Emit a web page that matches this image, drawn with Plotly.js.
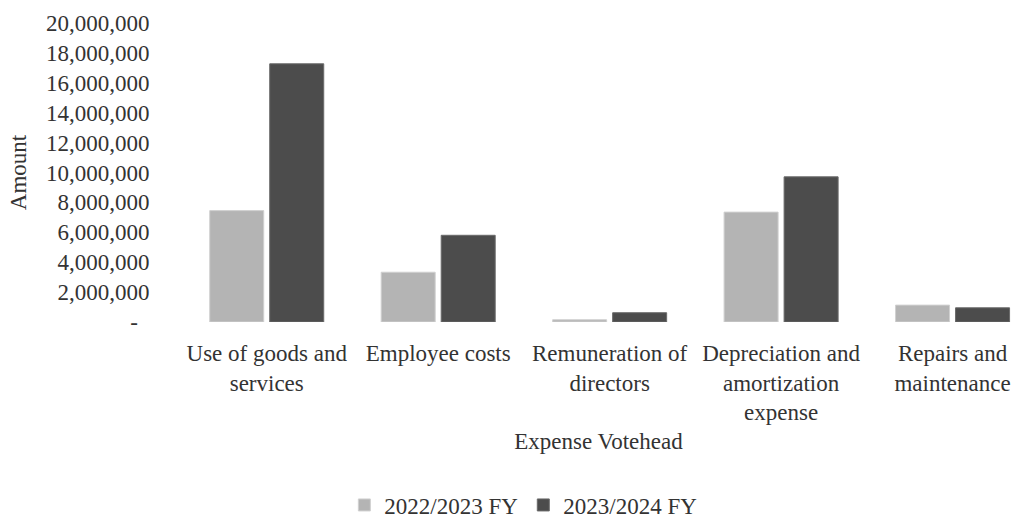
<!DOCTYPE html>
<html>
<head>
<meta charset="utf-8">
<script src="https://cdn.plot.ly/plotly-3.0.1.min.js"></script>
<style>
  html, body { margin: 0; padding: 0; background: #ffffff; }
  #chart { width: 1016px; height: 518px; }
</style>
</head>
<body>
<div id="chart"></div>
<script>
const categories = [
  "Use of goods and<br>services",
  "Employee costs",
  "Remuneration of<br>directors",
  "Depreciation and<br>amortization<br>expense",
  "Repairs and<br>maintenance"
];
const fy2022 = [7450000, 3330000, 150000, 7350000, 1130000];
const fy2023 = [17270000, 5800000, 620000, 9710000, 950000];
const seriesNames = ["2022/2023 FY", "2023/2024 FY"];
const yTickVals = [0, 2000000, 4000000, 6000000, 8000000, 10000000, 12000000, 14000000, 16000000, 18000000, 20000000];
const yTickText = ["-\u00a0\u00a0", "2,000,000", "4,000,000", "6,000,000", "8,000,000", "10,000,000", "12,000,000", "14,000,000", "16,000,000", "18,000,000", "20,000,000"];

const fontFam = "Liberation Serif";
const textColor = "#333333";

const data = [
  {
    type: "bar", x: categories, y: fy2022, name: seriesNames[0],
    marker: { color: "#b4b4b4", line: { color: "#d0d0d0", width: 1 } },
    hoverinfo: "skip"
  },
  {
    type: "bar", x: categories, y: fy2023, name: seriesNames[1],
    marker: { color: "#4c4c4c", line: { color: "#6a6a6a", width: 1 } },
    hoverinfo: "skip"
  }
];

const layout = {
  width: 1016, height: 518,
  margin: { l: 181, r: 0, t: 23, b: 196, autoexpand: false },
  paper_bgcolor: "#ffffff", plot_bgcolor: "#ffffff",
  font: { family: fontFam, size: 23, color: textColor },
  barmode: "group", bargap: 0.3, bargroupgap: 0.1,
  showlegend: true,
  legend: {
    orientation: "h", x: 0.41, xanchor: "center", y: -0.612, yanchor: "middle",
    font: { family: fontFam, size: 23, color: textColor },
    itemwidth: 30, traceorder: "normal"
  },
  xaxis: {
    type: "category", range: [-0.5, 4.37],
    showgrid: false, zeroline: false, showline: false,
    ticks: "outside", ticklen: 10, tickcolor: "rgba(0,0,0,0)",
    tickfont: { family: fontFam, size: 23, color: textColor },
    automargin: false,
    title: { text: "Expense Votehead", font: { family: fontFam, size: 23, color: textColor }, standoff: 8 }
  },
  yaxis: {
    range: [0, 20000000],
    tickvals: yTickVals, ticktext: yTickText,
    showgrid: false, zeroline: false, showline: false,
    ticks: "outside", ticklen: 26, tickcolor: "rgba(0,0,0,0)",
    tickfont: { family: fontFam, size: 23, color: textColor },
    automargin: false,
    title: { text: "Amount", font: { family: fontFam, size: 23, color: textColor }, standoff: 12 }
  }
};

Plotly.newPlot("chart", data, layout, { displayModeBar: false, staticPlot: true });
</script>
</body>
</html>
